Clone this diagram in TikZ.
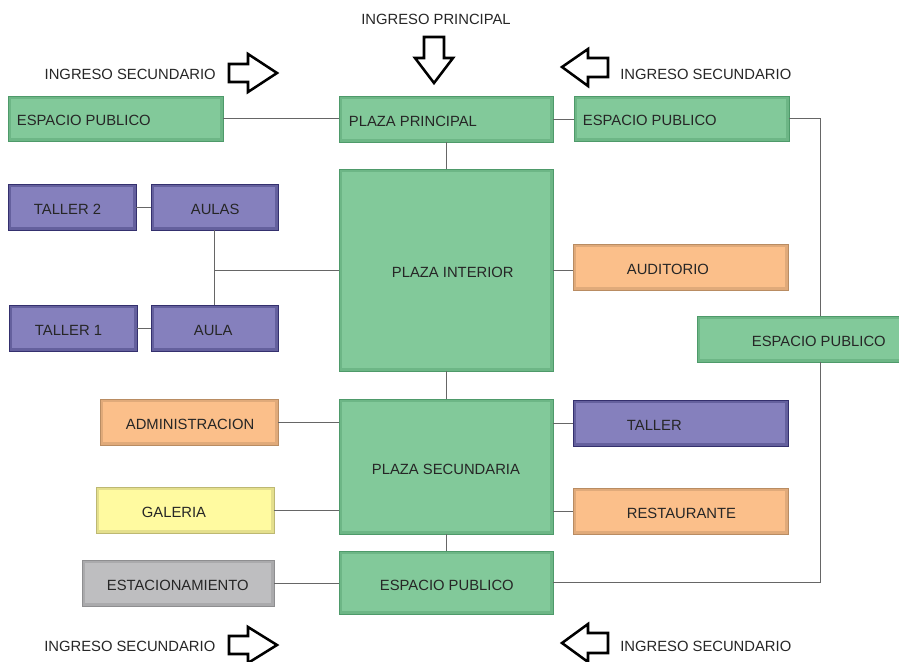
\documentclass[tikz,border=0pt]{standalone}
\usepackage{fontspec}
\setmainfont{Liberation Sans}
\usetikzlibrary{fit}
\definecolor{gfill}{HTML}{82C99A}\definecolor{gedge}{HTML}{4E9A6A}
\definecolor{pfill}{HTML}{8580BD}\definecolor{pedge}{HTML}{34306E}
\definecolor{ofill}{HTML}{FBBF8A}\definecolor{oedge}{HTML}{B98C62}
\definecolor{yfill}{HTML}{FFFAA0}\definecolor{yedge}{HTML}{BDB872}
\definecolor{sfill}{HTML}{BEBEC0}\definecolor{sedge}{HTML}{8E8E90}
\definecolor{conncol}{HTML}{666666}
\tikzset{
  boxbase/.style={inner sep=0pt, line width=0.5pt,
    path picture={\draw[line width=4pt, draw=#1, opacity=0.4]
      (path picture bounding box.south west) rectangle (path picture bounding box.north east);}},
  gbox/.style={boxbase=gedge, fill=gfill, draw=gedge},
  pbox/.style={boxbase=pedge, fill=pfill, draw=pedge},
  obox/.style={boxbase=oedge, fill=ofill, draw=oedge},
  ybox/.style={boxbase=yedge, fill=yfill, draw=yedge},
  sbox/.style={boxbase=sedge, fill=sfill, draw=sedge},
  lbl/.style={font=\fontsize{11.1}{13}\selectfont, text=black!85, inner sep=0pt},
  conn/.style={draw=conncol, line width=0.75pt},
  blockarrow/.style={draw=black, fill=white, line width=1.9pt, line join=miter},
}
\newcommand{\bx}[8]{\node[#2, fit={(#3,#4)(#5,#6)},
  label={[lbl, anchor=west, xshift={#7*0.75pt}, yshift=-1.8pt]west:#8}] (#1) {};}
\begin{document}
\begin{tikzpicture}[x=0.75pt,y=-0.75pt]
\useasboundingbox (0,0) rectangle (899,661);
% boxes
\bx{epa}{gbox}{8}{96}{223}{141}{9}{ESPACIO PUBLICO}
\bx{pp}{gbox}{339}{96}{553}{142}{10}{PLAZA PRINCIPAL}
\bx{epb}{gbox}{574}{96}{789}{141}{9}{ESPACIO PUBLICO}
\bx{t2}{pbox}{8}{184}{136}{230}{26}{TALLER 2}
\bx{aulas}{pbox}{151}{184}{278}{230}{40}{AULAS}
\bx{pi}{gbox}{339}{169}{553}{371}{53}{PLAZA INTERIOR}
\bx{aud}{obox}{573}{244}{788}{290}{54}{AUDITORIO}
\bx{t1}{pbox}{9}{305}{137}{351}{26}{TALLER 1}
\bx{aula}{pbox}{151}{305}{278}{351}{43}{AULA}
\bx{epc}{gbox}{697}{316}{912}{362}{55}{ESPACIO PUBLICO}
\bx{adm}{obox}{100}{399}{278}{445}{26}{ADMINISTRACION}
\bx{ps}{gbox}{339}{399}{553}{534}{33}{PLAZA SECUNDARIA}
\bx{tal}{pbox}{573}{400}{788}{446}{54}{TALLER}
\bx{gal}{ybox}{96}{487}{274}{533}{46}{GALERIA}
\bx{res}{obox}{573}{488}{788}{534}{54}{RESTAURANTE}
\bx{epd}{gbox}{339}{551}{553}{614}{41}{ESPACIO PUBLICO}
\bx{est}{sbox}{82}{560}{274}{606}{25}{ESTACIONAMIENTO}
% connectors
\coordinate (rr) at (820,0);
\draw[conn] (epa.east) -- (epa.east -| pp.west);
\draw[conn] (pp.east) -- (pp.east -| epb.west);
\draw[conn] (pp.south) -- (pi.north);
\draw[conn] (epb.east) -| (rr |- epc.north);
\draw[conn] (rr |- epc.south) |- (epd.east);
\draw[conn] (t2.east) -- (aulas.west);
\draw[conn] (t1.east) -- (aula.west);
\draw[conn] (aulas.south) -- (aula.north);
\draw[conn] (aulas.south |- pi.west) -- (pi.west);
\draw[conn] (pi.east) -- (pi.east -| aud.west);
\draw[conn] (pi.south) -- (ps.north);
\draw[conn] (adm.east) -- (adm.east -| ps.west);
\draw[conn] (gal.east) -- (gal.east -| ps.west);
\draw[conn] (ps.east |- tal.west) -- (tal.west);
\draw[conn] (ps.east |- res.west) -- (res.west);
\draw[conn] (ps.south) -- (epd.north);
\draw[conn] (est.east) -- (est.east -| epd.west);
% entrance arrows
\draw[blockarrow] (424,37) -- (444,37) -- (444,58) -- (453,58) -- (434,83) -- (415,58) -- (424,58) -- cycle;
\draw[blockarrow] (229,64) -- (248,64) -- (248,54) -- (277,73) -- (248,92) -- (248,82) -- (229,82) -- cycle;
\draw[blockarrow] (608,58) -- (588,58) -- (588,49) -- (562,67) -- (588,86) -- (588,77) -- (608,77) -- cycle;
\draw[blockarrow] (229,636) -- (248,636) -- (248,627) -- (277,645) -- (248,663) -- (248,654) -- (229,654) -- cycle;
\draw[blockarrow] (608,633) -- (588,633) -- (588,624) -- (562,643) -- (588,662) -- (588,653) -- (608,653) -- cycle;
% entrance labels
\node[lbl] (ip) at (436,19) {INGRESO PRINCIPAL};
\node[lbl, anchor=east] (is1) at (216,74) {INGRESO SECUNDARIO};
\node[lbl, anchor=west] (is2) at (620,74) {INGRESO SECUNDARIO};
\node[lbl, anchor=west] (is3) at (44,646) {INGRESO SECUNDARIO};
\node[lbl, anchor=west] (is4) at (620,646) {INGRESO SECUNDARIO};
\end{tikzpicture}
\end{document}
